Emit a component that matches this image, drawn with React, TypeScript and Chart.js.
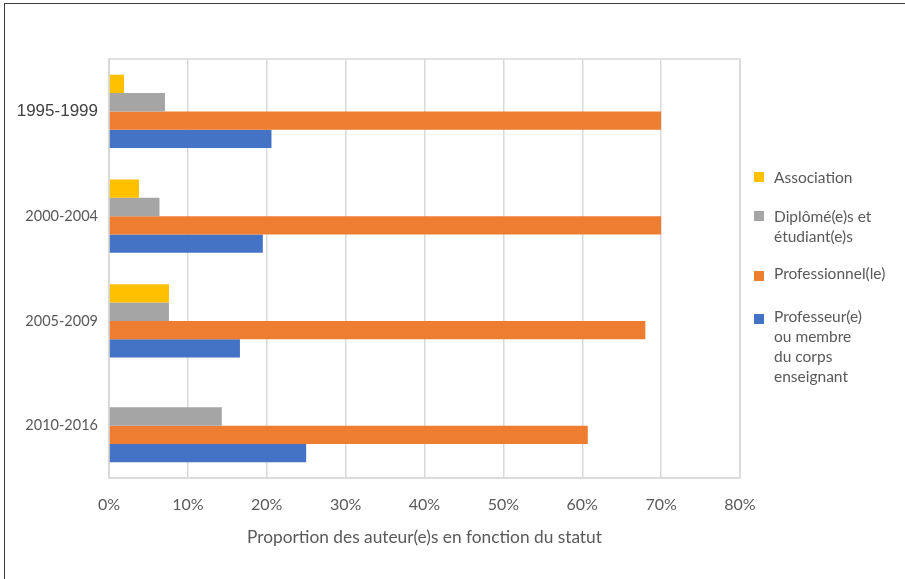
import React, { useEffect, useRef } from 'react';
import { Chart, registerables } from 'chart.js';

Chart.register(...registerables);

const categories = ['1995-1999', '2000-2004', '2005-2009', '2010-2016'];
const association = [1.9, 3.8, 7.6, 0];
const diplomes = [7.1, 6.4, 7.6, 14.3];
const professionnels = [70.0, 70.0, 68.0, 60.7];
const professeurs = [20.6, 19.5, 16.6, 25.0];
const seriesLabels = [
  'Association',
  'Diplômé(e)s et étudiant(e)s',
  'Professionnel(le)',
  'Professeur(e) ou membre du corps enseignant',
];
const legendLines = [
  ['Association'],
  ['Diplômé(e)s et', 'étudiant(e)s'],
  ['Professionnel(le)'],
  ['Professeur(e)', 'ou membre', 'du corps', 'enseignant'],
];
const seriesColors = ['#FFC000', '#A5A5A5', '#ED7D31', '#4472C4'];
const xMin = 0;
const xMax = 80;
const xStep = 10;
const axisTitle = 'Proportion des auteur(e)s en fonction du statut';

const legendTextTops = [167, 206, 263, 306];
const legendSquareTops = [172, 211, 271, 314];

const framePlugin = {
  id: 'plotFrame',
  beforeDatasetsDraw(chart: any) {
    const { ctx, chartArea: a } = chart;
    ctx.save();
    ctx.strokeStyle = '#d9d9d9';
    ctx.lineWidth = 1.5;
    ctx.strokeRect(a.left, a.top, a.right - a.left, a.bottom - a.top);
    ctx.restore();
  },
};

export default function App() {
  const canvasRef = useRef<HTMLCanvasElement | null>(null);

  useEffect(() => {
    const canvas = canvasRef.current;
    if (!canvas) return;
    const values = [association, diplomes, professionnels, professeurs];
    const chart = new Chart(canvas, {
      type: 'bar',
      data: {
        labels: categories,
        datasets: values.map((v, i) => ({
          label: seriesLabels[i],
          data: v,
          backgroundColor: seriesColors[i],
          borderWidth: 0,
          categoryPercentage: 0.7,
          barPercentage: 1.0,
        })),
      },
      options: {
        indexAxis: 'y',
        responsive: false,
        animation: false,
        layout: { padding: { left: 0, top: 59, right: 165, bottom: 0 } },
        plugins: {
          legend: { display: false },
          tooltip: { enabled: false },
        },
        scales: {
          x: {
            min: xMin,
            max: xMax,
            ticks: {
              stepSize: xStep,
              padding: 17,
              color: '#595959',
              font: { family: 'Lato', size: 16 },
              callback: (v: any) => `${v}%`,
            },
            grid: { color: '#d9d9d9', lineWidth: 1.5, drawTicks: false },
            border: { display: true, color: '#d9d9d9', width: 1.5 },
            title: {
              display: true,
              text: axisTitle,
              color: '#595959',
              font: { family: 'Lato', size: 17.3 },
              padding: { top: 0, bottom: 31 },
            },
            afterFit: (s: any) => {
              s.height = 101;
            },
          },
          y: {
            ticks: {
              padding: 11,
              color: (c: any) => (c.index === 0 ? '#404040' : '#595959'),
              font: (c: any) =>
                c.index === 0
                  ? { family: 'Liberation Sans', size: 17 }
                  : { family: 'Lato', size: 14.5 },
            },
            grid: { display: false, drawTicks: false },
            border: { display: true, color: '#d9d9d9', width: 1.5 },
            afterFit: (s: any) => {
              s.width = 109;
            },
          },
        },
      },
      plugins: [framePlugin],
    });
    return () => chart.destroy();
  }, []);

  return (
    <div
      style={{
        position: 'fixed',
        left: 0,
        top: 0,
        width: 905,
        height: 579,
        background: '#fff',
        overflow: 'hidden',
      }}
    >
      <canvas
        ref={canvasRef}
        width={905}
        height={579}
        style={{ position: 'absolute', left: 0, top: 0, width: 905, height: 579 }}
      />
      <div
        style={{
          position: 'absolute',
          left: 4,
          top: 3,
          width: 905,
          height: 580,
          borderLeft: '1.5px solid #3a3a3a',
          borderTop: '1.5px solid #3a3a3a',
          pointerEvents: 'none',
        }}
      />
      {legendLines.map((lines, i) => (
        <React.Fragment key={i}>
          <div
            style={{
              position: 'absolute',
              left: 754,
              top: legendSquareTops[i],
              width: 10,
              height: 10,
              background: seriesColors[i],
            }}
          />
          <div
            style={{
              position: 'absolute',
              left: 774,
              top: legendTextTops[i],
              fontFamily: 'Lato',
              fontSize: 15.5,
              lineHeight: '20px',
              color: '#595959',
              whiteSpace: 'nowrap',
            }}
          >
            {lines.map((l, j) => (
              <div key={j}>{l}</div>
            ))}
          </div>
        </React.Fragment>
      ))}
    </div>
  );
}
